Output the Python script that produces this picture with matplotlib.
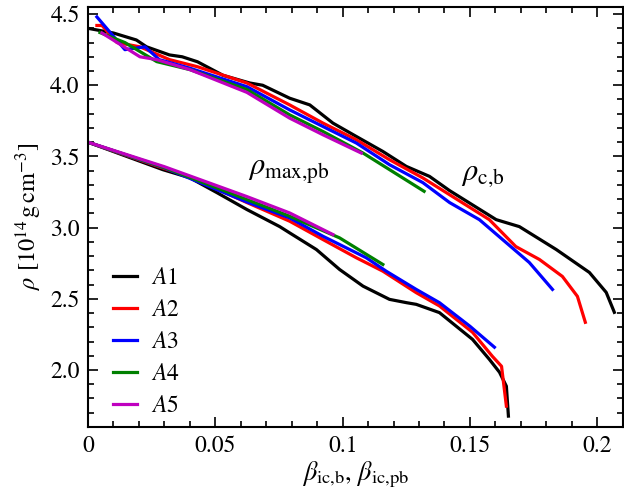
import matplotlib
matplotlib.use('Agg')
import matplotlib.pyplot as plt
from matplotlib.ticker import MultipleLocator, FuncFormatter

plt.rcParams['font.family'] = 'STIXGeneral'
plt.rcParams['mathtext.fontset'] = 'stix'

# rho_c,b (upper curves)
cb_x1 = [0.0, 0.010, 0.019, 0.023, 0.032, 0.037, 0.043, 0.053, 0.0635, 0.0686, 0.0792, 0.0871,
         0.0962, 0.1054, 0.1158, 0.125, 0.1341, 0.142, 0.1603, 0.1694, 0.1839, 0.1969, 0.2035, 0.2067]
cb_y1 = [4.40, 4.367, 4.318, 4.27, 4.213, 4.20, 4.165, 4.07, 4.016, 4.0, 3.909, 3.862,
         3.734, 3.64, 3.535, 3.43, 3.36, 3.26, 3.056, 3.007, 2.846, 2.685, 2.545, 2.405]
cb_x2 = [0.0035, 0.0055, 0.0114, 0.0204, 0.032, 0.043, 0.0624, 0.0792, 0.0923, 0.1054, 0.1184,
         0.1315, 0.1576, 0.168, 0.1773, 0.1863, 0.1922, 0.1953]
cb_y2 = [4.42, 4.42, 4.30, 4.27, 4.18, 4.13, 4.016, 3.862, 3.734, 3.617, 3.477,
         3.349, 3.056, 2.867, 2.776, 2.657, 2.517, 2.335]
cb_x3 = [0.0035, 0.0145, 0.0224, 0.028, 0.040, 0.0624, 0.0792, 0.0923, 0.1054, 0.1184, 0.1315,
         0.142, 0.1537, 0.1733, 0.1824]
cb_y3 = [4.48, 4.25, 4.27, 4.18, 4.12, 3.99, 3.827, 3.71, 3.594, 3.442, 3.316,
         3.176, 3.056, 2.755, 2.566]
cb_x4 = [0.0047, 0.0145, 0.027, 0.040, 0.0624, 0.0792, 0.0923, 0.108, 0.132]
cb_y4 = [4.37, 4.30, 4.166, 4.11, 3.97, 3.792, 3.675, 3.524, 3.255]
cb_x5 = [0.0055, 0.0204, 0.027, 0.040, 0.0624, 0.0792, 0.0923, 0.1073]
cb_y5 = [4.367, 4.20, 4.18, 4.11, 3.95, 3.769, 3.652, 3.524]

# rho_max,pb (lower curves)
pb_x1 = [0.0, 0.0294, 0.040, 0.0506, 0.0624, 0.0753, 0.0792, 0.0897, 0.0988, 0.108, 0.1184,
         0.125, 0.1289, 0.138, 0.151, 0.1576, 0.1616, 0.1643, 0.1651]
pb_y1 = [3.60, 3.407, 3.35, 3.246, 3.127, 3.007, 2.963, 2.846, 2.706, 2.589, 2.496,
         2.473, 2.461, 2.403, 2.215, 2.075, 1.984, 1.886, 1.676]
pb_x2 = [0.0, 0.03, 0.040, 0.0624, 0.0792, 0.0923, 0.1054, 0.1158, 0.1289, 0.138, 0.151,
         0.1588, 0.1624, 0.1643]
pb_y2 = [3.60, 3.415, 3.358, 3.176, 3.045, 2.916, 2.788, 2.694, 2.543, 2.45, 2.265,
         2.096, 2.026, 1.746]
pb_x3 = [0.0, 0.03, 0.0624, 0.0792, 0.0923, 0.1093, 0.1171, 0.1289, 0.138, 0.150, 0.1596]
pb_y3 = [3.60, 3.42, 3.18, 3.068, 2.939, 2.788, 2.694, 2.566, 2.473, 2.307, 2.16]
pb_x4 = [0.0, 0.03, 0.0624, 0.0792, 0.0988, 0.1158]
pb_y4 = [3.60, 3.422, 3.197, 3.08, 2.928, 2.741]
pb_x5 = [0.0, 0.03, 0.0624, 0.0792, 0.0962]
pb_y5 = [3.60, 3.428, 3.218, 3.103, 2.951]

labels = ['$A1$', '$A2$', '$A3$', '$A4$', '$A5$']
colors = ['k', 'r', 'b', 'g', 'm']

cb = [(cb_x1, cb_y1), (cb_x2, cb_y2), (cb_x3, cb_y3), (cb_x4, cb_y4), (cb_x5, cb_y5)]
pb = [(pb_x1, pb_y1), (pb_x2, pb_y2), (pb_x3, pb_y3), (pb_x4, pb_y4), (pb_x5, pb_y5)]

fig = plt.figure(figsize=(6.24, 4.97), dpi=100)
ax = fig.add_axes([0.141, 0.141, 0.857, 0.845])

for (x, y), c, lab in zip(cb, colors, labels):
    ax.plot(x, y, color=c, lw=2.3, label=lab)
for (x, y), c in zip(pb, colors):
    ax.plot(x, y, color=c, lw=2.3)

ax.text(0.079, 3.39, r'$\rho_{\rm max{,}pb}$', fontsize=22, ha='center', va='center')
ax.text(0.155, 3.37, r'$\rho_{\rm c{,}b}$', fontsize=22, ha='center', va='center')

ax.set_xlim(0, 0.21)
ax.set_ylim(1.6, 4.55)
ax.xaxis.set_major_locator(MultipleLocator(0.05))
ax.xaxis.set_minor_locator(MultipleLocator(0.01))
ax.yaxis.set_major_locator(MultipleLocator(0.5))
ax.yaxis.set_minor_locator(MultipleLocator(0.1))
ax.xaxis.set_major_formatter(FuncFormatter(lambda v, p: '%g' % round(v, 3)))
ax.yaxis.set_major_formatter(FuncFormatter(lambda v, p: '%.1f' % v))
ax.tick_params(which='both', direction='in', top=True, right=True, labelsize=17, width=1.2)
ax.tick_params(which='major', length=7, pad=6)
ax.tick_params(which='minor', length=4)
for s in ax.spines.values():
    s.set_linewidth(1.5)

ax.set_xlabel(r'$\beta_{\rm ic{,}b}$, $\beta_{\rm ic{,}pb}$', fontsize=19, labelpad=2)
ax.set_ylabel(r'$\rho\ [10^{14}\,{\rm g\,cm^{-3}}]$', fontsize=17.5, labelpad=4)

ax.legend(loc='lower left', bbox_to_anchor=(0.029, 0.0), frameon=False, fontsize=17,
          handlelength=1.0, handletextpad=0.6, labelspacing=0.45, borderaxespad=0.0)

fig.savefig('out.png', dpi=100)
